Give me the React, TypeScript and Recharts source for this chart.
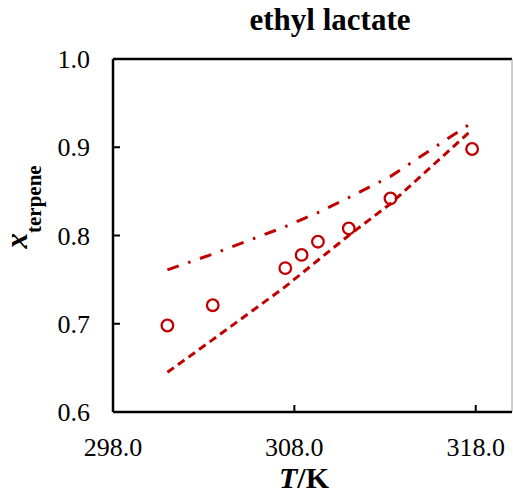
import {
  ComposedChart,
  XAxis,
  YAxis,
  Line,
  Scatter,
  ReferenceLine,
  Label,
} from "recharts";

const temps = [301.0, 303.5, 307.5, 308.4, 309.3, 311.0, 313.3, 317.8];
const expValues = [0.698, 0.721, 0.763, 0.778, 0.793, 0.808, 0.842, 0.898];
const dashedValues = [0.645, 0.682, 0.742, 0.757, 0.772, 0.8, 0.836, 0.92];
const dashDotValues = [0.761, 0.779, 0.81, 0.818, 0.826, 0.843, 0.867, 0.928];

const xTicks = [298, 308, 318];
const yTicks = [0.6, 0.7, 0.8, 0.9, 1.0];

const data = temps.map((t, i) => ({
  T: t,
  exp: expValues[i],
  dashed: dashedValues[i],
  dashDot: dashDotValues[i],
}));

const RED = "#C00000";
const FONT = '"Liberation Serif", "Times New Roman", serif';

const OpenCircle = (props: any) => (
  <circle
    cx={props.cx}
    cy={props.cy}
    r={5.8}
    fill="none"
    stroke={RED}
    strokeWidth={2.3}
  />
);

const YTitle = (props: any) => {
  const vb = props.viewBox;
  const x = vb.x + 27;
  const y = vb.y + vb.height / 2 + 13;
  return (
    <text
      x={x}
      y={y}
      transform={`rotate(-90, ${x}, ${y})`}
      fontFamily={FONT}
      fontWeight="bold"
      fill="#000"
    >
      <tspan fontSize={31} fontStyle="italic">
        x
      </tspan>
      <tspan fontSize={21} dy={14}>
        terpene
      </tspan>
    </text>
  );
};

const XTitle = (props: any) => {
  const vb = props.viewBox;
  return (
    <text
      x={304}
      y={vb.y + 76}
      textAnchor="middle"
      fontFamily={FONT}
      fontWeight="bold"
      fontSize={30}
      fill="#000"
    >
      <tspan fontStyle="italic">T</tspan>
      <tspan>/K</tspan>
    </text>
  );
};

export default function App() {
  return (
    <div
      style={{
        position: "absolute",
        left: 0,
        top: 0,
        width: 513,
        height: 496,
        background: "#fff",
      }}
    >
      <div
        style={{
          position: "absolute",
          left: 0,
          top: 0,
          width: 660,
          textAlign: "center",
          fontFamily: FONT,
          fontWeight: "bold",
          fontSize: 31,
          lineHeight: "40px",
          color: "#000",
        }}
      >
        ethyl lactate
      </div>
      <ComposedChart
        width={513}
        height={496}
        data={data}
        margin={{ top: 59, right: 1, bottom: 0, left: 0 }}
      >
        <XAxis
          dataKey="T"
          type="number"
          domain={[298, 320]}
          ticks={xTicks}
          interval={0}
          allowDataOverflow
          height={84}
          axisLine={{ stroke: "#000", strokeWidth: 2.5 }}
          tickLine={{ stroke: "#000", strokeWidth: 2 }}
          tickSize={-7}
          tickMargin={33}
          tickFormatter={(v: number) => v.toFixed(1)}
          tick={{ fill: "#000", fontSize: 26, fontFamily: FONT }}
        >
          <Label content={XTitle} />
        </XAxis>
        <YAxis
          type="number"
          domain={[0.6, 1.0]}
          ticks={yTicks}
          interval={0}
          allowDataOverflow
          width={113}
          axisLine={{ stroke: "#000", strokeWidth: 2.5 }}
          tickLine={{ stroke: "#000", strokeWidth: 2 }}
          tickSize={-7}
          tickMargin={30}
          tickFormatter={(v: number) => v.toFixed(1)}
          tick={{ fill: "#000", fontSize: 26, fontFamily: FONT }}
        >
          <Label content={YTitle} />
        </YAxis>
        <ReferenceLine y={1.0} stroke="#000" strokeWidth={2.5} />
        <ReferenceLine x={320} stroke="#9a9a9a" strokeWidth={1} />
        <Line
          dataKey="dashed"
          type="linear"
          stroke={RED}
          strokeWidth={3}
          strokeDasharray="8 5"
          dot={false}
          activeDot={false}
          isAnimationActive={false}
        />
        <Line
          dataKey="dashDot"
          type="linear"
          stroke={RED}
          strokeWidth={3}
          strokeDasharray="12 10 2.5 10"
          dot={false}
          activeDot={false}
          isAnimationActive={false}
        />
        <Scatter
          dataKey="exp"
          shape={OpenCircle}
          isAnimationActive={false}
        />
      </ComposedChart>
    </div>
  );
}
